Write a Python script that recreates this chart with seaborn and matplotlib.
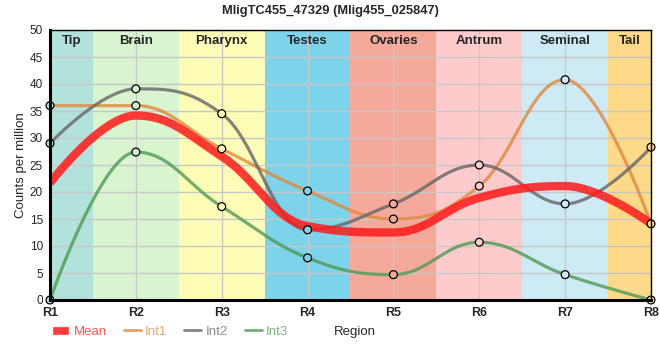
import numpy as np
import pandas as pd
import matplotlib
matplotlib.use("Agg")
import matplotlib.pyplot as plt
import seaborn as sns
from matplotlib.lines import Line2D
from matplotlib.patches import Patch

# ---------- data ----------
regions = ["R1", "R2", "R3", "R4", "R5", "R6", "R7", "R8"]
int1 = [36.0, 36.0, 28.0, 20.2, 15.0, 21.1, 40.8, 14.1]
int2 = [29.0, 39.1, 34.5, 13.0, 17.8, 25.0, 17.8, 28.3]
int3 = [0.0, 27.4, 17.3, 7.8, 4.7, 10.7, 4.7, 0.0]
mean = list(np.mean([int1, int2, int3], axis=0))

band_names = ["Tip", "Brain", "Pharynx", "Testes", "Ovaries", "Antrum", "Seminal", "Tail"]
band_colors = ["#b3e2dd", "#d8f5d0", "#fdfdb8", "#7dd3ea", "#f4a99b", "#fdcbcb", "#cdeaf5", "#fdd98a"]

series_colors = {"Mean": "#ff1a1a", "Int1": "#e0893e", "Int2": "#666666", "Int3": "#4f9a55"}


def spline_path(y, n=40):
    # spline rendering between points (bezier controls at 0.4 spacing, flattened at extremes)
    y = np.asarray(y, float)
    x = np.arange(len(y), dtype=float)
    k = len(y)
    lcx, lcy, rcx, rcy = x.copy(), y.copy(), x.copy(), y.copy()
    sm = 1.5
    d = sm + 1
    for i in range(1, k - 1):
        lx, ly = (sm * x[i] + x[i - 1]) / d, (sm * y[i] + y[i - 1]) / d
        rx, ry = (sm * x[i] + x[i + 1]) / d, (sm * y[i] + y[i + 1]) / d
        corr = (ry - ly) * (rx - x[i]) / (rx - lx) + y[i] - ry
        ly += corr
        ry += corr
        if ly > y[i - 1] and ly > y[i]:
            ly = max(y[i - 1], y[i]); ry = 2 * y[i] - ly
        elif ly < y[i - 1] and ly < y[i]:
            ly = min(y[i - 1], y[i]); ry = 2 * y[i] - ly
        if ry > y[i + 1] and ry > y[i]:
            ry = max(y[i + 1], y[i]); ly = 2 * y[i] - ry
        elif ry < y[i + 1] and ry < y[i]:
            ry = min(y[i + 1], y[i]); ly = 2 * y[i] - ry
        lcx[i], lcy[i], rcx[i], rcy[i] = lx, ly, rx, ry
    xs, ys = [], []
    for i in range(k - 1):
        t = np.linspace(0, 1, n)
        b = [(1 - t) ** 3, 3 * (1 - t) ** 2 * t, 3 * (1 - t) * t ** 2, t ** 3]
        px = [x[i], rcx[i], lcx[i + 1], x[i + 1]]
        py = [y[i], rcy[i], lcy[i + 1], y[i + 1]]
        xs.append(sum(bb * p for bb, p in zip(b, px)))
        ys.append(sum(bb * p for bb, p in zip(b, py)))
    return np.concatenate(xs), np.concatenate(ys)


sns.set_style("white")
plt.rcParams["font.family"] = ["Liberation Sans", "DejaVu Sans"]

fig = plt.figure(figsize=(6.6, 3.6), dpi=100)
ax = fig.add_axes([50 / 660, 60 / 360, 601 / 660, 270 / 360])

# region bands
label_x = [0.25, 1, 2, 3, 4, 5, 6, 6.75]
for i, (name, c) in enumerate(zip(band_names, band_colors)):
    ax.axvspan(i - 0.5, i + 0.5, color=c, lw=0, zorder=0)
    ax.text(label_x[i], 0.96, name, transform=ax.get_xaxis_transform(),
            ha="center", va="center", fontsize=9.5, fontweight="bold", zorder=5)

for v in range(0, 51, 5):
    ax.axhline(v, color="#c8c8c8", lw=1, zorder=1)
for i in range(len(regions)):
    ax.axvline(i, color="#c8c8c8", lw=1, zorder=1)

# lines
for name, vals, lw, z in [("Int1", int1, 2.3, 3), ("Int2", int2, 2.3, 3),
                          ("Int3", int3, 2.3, 3), ("Mean", mean, 6, 4)]:
    cx, cy = spline_path(vals)
    sns.lineplot(x=cx, y=cy, ax=ax, color=series_colors[name], lw=lw,
                 alpha=0.85 if name == "Mean" else 0.8, zorder=z, sort=False,
                 solid_capstyle="butt")

# markers on individual series, filled with the band colour behind them
px = list(range(len(regions))) * 3
py = int1 + int2 + int3
ax.scatter(px, py, s=32, facecolors=[band_colors[i] for i in px],
           edgecolors="black", linewidths=0.9, zorder=6, clip_on=False)

ax.set_xlim(0, len(regions) - 1)
ax.set_ylim(0, 50)
ax.set_yticks(range(0, 51, 5))
ax.set_xticks(range(len(regions)))
ax.set_xticklabels(regions, fontsize=9, fontweight="bold")
ax.tick_params(axis="y", labelsize=8.5, length=3, width=1.5, pad=2)
ax.tick_params(axis="x", length=0, pad=5)
ax.set_ylabel("Counts per million", fontsize=9.5, labelpad=2)
ax.set_xlabel("Region", fontsize=9.5)
ax.xaxis.set_label_coords(0.507, -0.095)

for side in ["top", "right"]:
    ax.spines[side].set_linewidth(1)
    ax.spines[side].set_color("black")
for side in ["left", "bottom"]:
    ax.spines[side].set_linewidth(2.2)
    ax.spines[side].set_color("black")
for sp in ax.spines.values():
    sp.set_zorder(7)

handles = [Patch(facecolor=series_colors["Mean"], alpha=0.85),
           Line2D([], [], color=series_colors["Int1"], lw=2, alpha=0.8),
           Line2D([], [], color=series_colors["Int2"], lw=2, alpha=0.8),
           Line2D([], [], color=series_colors["Int3"], lw=2, alpha=0.8)]
leg = ax.legend(handles, ["Mean", "Int1", "Int2", "Int3"], loc="upper left",
                bbox_to_anchor=(-0.005, -0.075), ncol=4, frameon=False,
                fontsize=9.5, handlelength=1.3, handletextpad=0.3,
                columnspacing=1.3, borderaxespad=0)
for txt, name in zip(leg.get_texts(), ["Mean", "Int1", "Int2", "Int3"]):
    txt.set_color(series_colors[name])
    txt.set_alpha(0.75)

fig.suptitle("MligTC455_47329 (Mlig455_025847)", fontsize=9.3, fontweight="bold", y=0.985)

fig.savefig("out.png", dpi=100)
